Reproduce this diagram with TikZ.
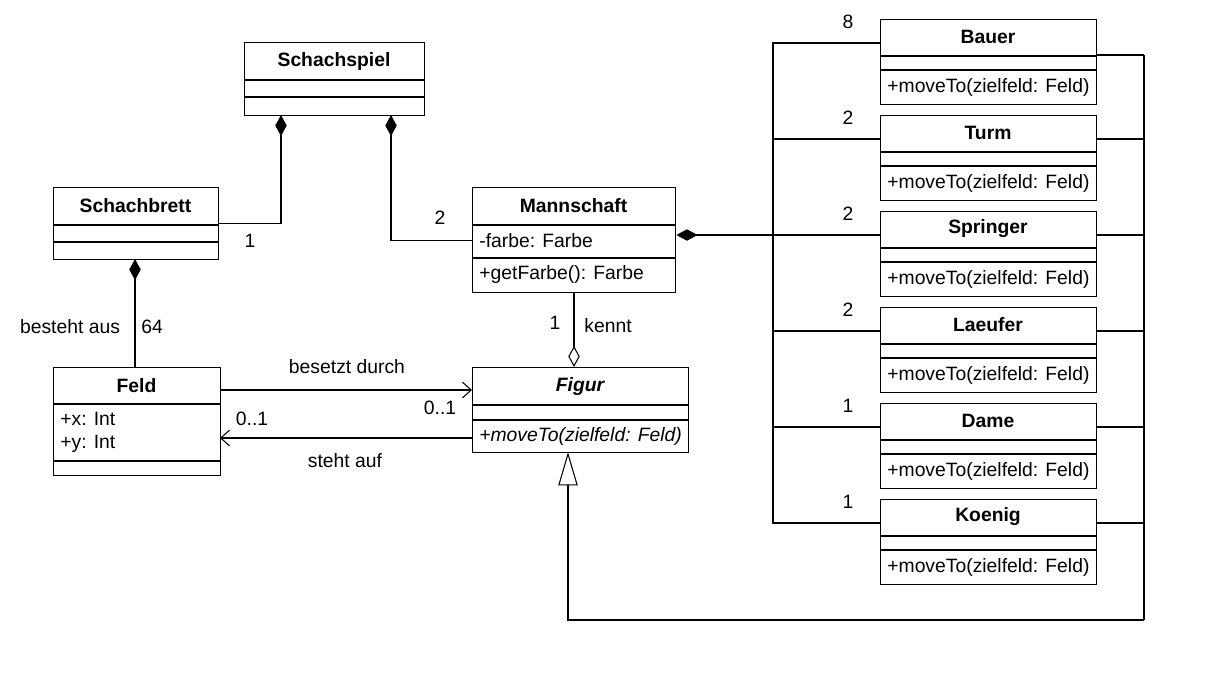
\documentclass[tikz,border=0pt]{standalone}
\usepackage{fontspec}
\setmainfont{Liberation Sans}
\usetikzlibrary{arrows.meta}
\tikzset{
  cls/.style={draw,thick,fill=white,inner sep=0pt,anchor=north west},
  cname/.style={font=\fontsize{11}{13}\selectfont\bfseries,inner sep=0pt},
  member/.style={anchor=west,inner sep=0pt,align=left},
  lbl/.style={inner sep=1pt},
  conn/.style={semithick},
  comp/.style={conn,{Diamond[fill=black,length=12pt,width=6.5pt]}-},
  aggr/.style={conn,{Diamond[open,fill=white,length=12pt,width=6.5pt]}-},
  nav/.style={conn,-{Straight Barb[length=5pt,width=9pt]}},
  inherit/.style={very thick,-{Triangle[open,fill=white,length=19pt,width=11pt,line width=0.6pt]}}
}
\newcommand{\umlbox}[5]{% name, x, y, width, height
  \node[cls,minimum width=#4*0.02cm,minimum height=#5*0.02cm] (#1) at (#2,#3) {};}
\begin{document}
\begin{tikzpicture}[x=0.02cm,y=-0.02cm,font=\fontsize{11}{13}\selectfont]
\useasboundingbox (0,0) rectangle (1206,681);
% Schachspiel
\umlbox{sp}{244}{42}{180}{73}
\draw[thick] (244,80) -- (424,80) (244,97) -- (424,97);
\node[cname] (spn) at (334,61) {Schachspiel};
% Schachbrett
\umlbox{sb}{53}{187}{165}{72}
\draw[thick] (53,225) -- (218,225) (53,242) -- (218,242);
\node[cname] (sbn) at (135.5,206) {Schachbrett};
% Mannschaft
\umlbox{mn}{472}{187}{203}{105}
\draw[thick] (472,225) -- (675,225) (472,258) -- (675,258);
\node[cname] (mnn) at (573.5,206) {Mannschaft};
\node[member] (mna) at (479,241) {-farbe: Farbe};
\node[member] (mno) at (479,274) {+getFarbe(): Farbe};
% Feld
\umlbox{fd}{53}{367}{167}{108}
\draw[thick] (53,404) -- (220,404) (53,461) -- (220,461);
\node[cname] (fdn) at (136.5,386) {Feld};
\node[member] (fda) at (60,432) {+x: Int\\+y: Int};
% Figur
\umlbox{fg}{472}{367}{216}{85}
\draw[thick] (472,405) -- (688,405) (472,420) -- (688,420);
\node[cname,font=\fontsize{11}{13}\selectfont\bfseries\itshape] (fgn) at (580,386) {Figur};
\node[member,font=\fontsize{11}{13}\selectfont\itshape] (fgo) at (479,436) {+moveTo(zielfeld: Feld)};
% Figuren
\foreach \n/\t/\y/\m in {ba/Bauer/19/8,tu/Turm/115/2,spr/Springer/211/2,la/Laeufer/307/2,da/Dame/403/1,ko/Koenig/499/1}{
  \umlbox{\n}{880}{\y}{216}{85}
  \draw[thick] (880,\y+37) -- (1096,\y+37) (880,\y+51) -- (1096,\y+51);
  \node[cname] (\n-n) at (988,\y+18) {\t};
  \node[member] (\n-o) at (887,\y+68) {+moveTo(zielfeld: Feld)};
  \node[lbl] (\n-m) at (848,\y+3) {\m};
  \coordinate (\n-l) at (880,\y+24);
  \coordinate (\n-r) at (1096,\y+24);
}
\coordinate (ba-r) at (1096,55);
% Assoziationen
\coordinate (sp-a) at (281,115);
\coordinate (sp-b) at (391,115);
\draw[comp] (sp-a) |- (sb.east);
\draw[comp] (sp-b) |- (mn.west);
\coordinate (sb-a) at (135,259);
\coordinate (fd-a) at (135,367);
\draw[comp] (sb-a) -- (fd-a);
\coordinate (fg-a) at (574,367);
\coordinate (mn-a) at (574,292);
\draw[aggr] (fg-a) -- (mn-a);
\coordinate (fd-b) at (220,390);
\coordinate (fg-b) at (472,390);
\draw[nav] (fd-b) -- (fg-b);
\coordinate (fd-c) at (220,438);
\coordinate (fg-c) at (472,438);
\draw[nav] (fg-c) -- (fd-c);
\coordinate (tr) at (773,235);
\draw[comp] (mn.east |- tr) -- (tr);
\draw[conn] (ba-l) -| (773,523) -- (ko-l);
\foreach \n in {tu,spr,la,da}{\draw[conn] (773,0 |- \n-l) -- (\n-l);}
\foreach \n in {ba,tu,spr,la,da,ko}{\draw[conn] (\n-r) -- (1144,0 |- \n-r);}
\draw[conn] (1144,55) -- (1144,620);
\coordinate (fg-g) at (568,452);
\draw[inherit] (1144,620) -- (568,620) -- (fg-g);
% Beschriftungen
\node[lbl] (l1) at (250,241) {1};
\node[lbl] (l2) at (440,218) {2};
\node[lbl] (l3) at (70,327) {besteht aus};
\node[lbl] (l4) at (152,327) {64};
\node[lbl] (l5) at (555,323) {1};
\node[lbl] (l6) at (608,326) {kennt};
\node[lbl] (l7) at (347,367) {besetzt durch};
\node[lbl] (l8) at (440,408) {0..1};
\node[lbl] (l9) at (252,419) {0..1};
\node[lbl] (l10) at (345,461) {steht auf};
\end{tikzpicture}
\end{document}
